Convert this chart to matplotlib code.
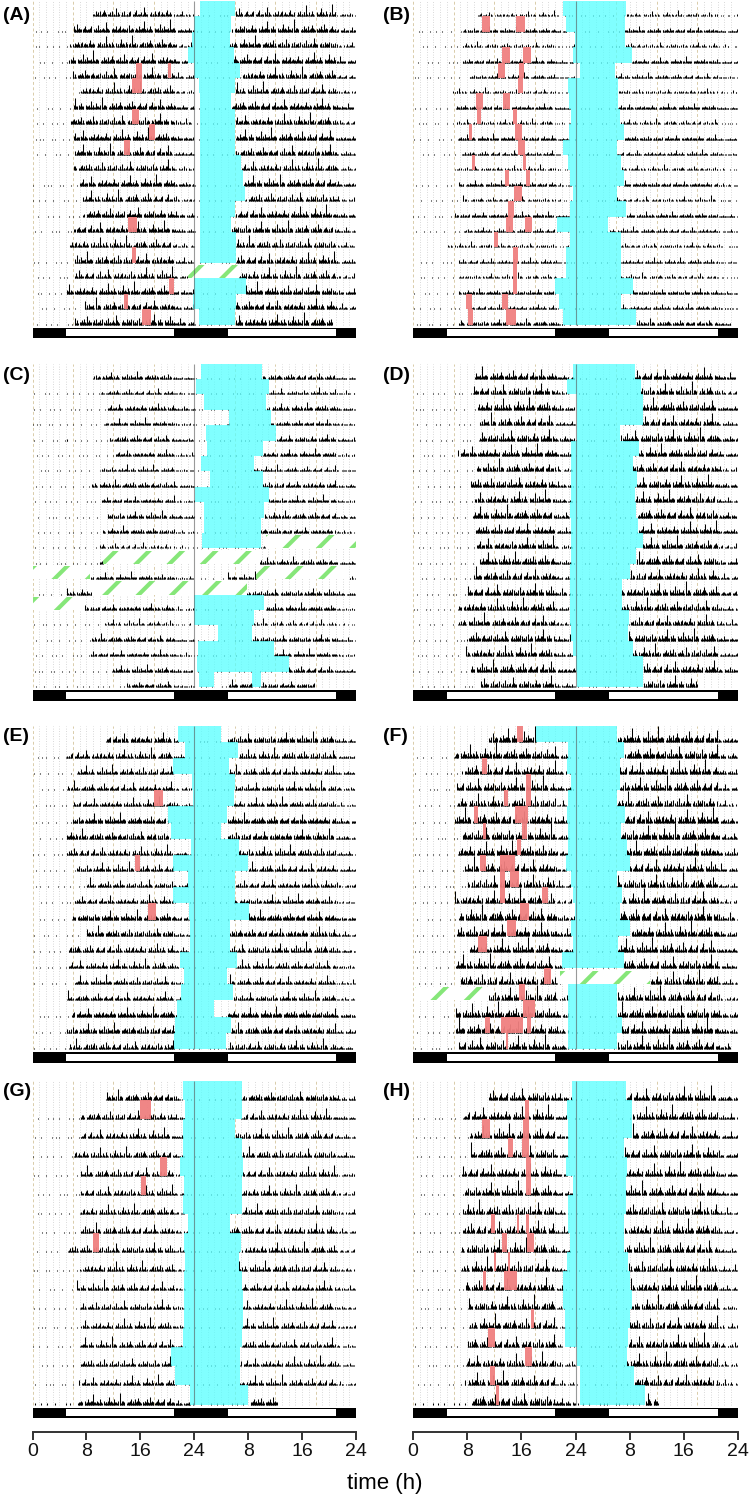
"""
Double-plotted actograms (A)-(H): activity traces, rest bouts (cyan),
short bouts (red), missing data (green hatch) and the light/dark bar.
"""

import numpy as np
import matplotlib.pyplot as plt
from matplotlib.patches import Rectangle

plt.rcParams['hatch.linewidth'] = 3.0

# ---- Data (hours on the double-plotted 0-48 h axis, rows counted from 1) ----
labels = ['(A)', '(B)', '(C)', '(D)', '(E)', '(F)', '(G)', '(H)']
n_rows = [21, 21, 21, 21, 20, 20, 17, 17]
rec_start = [9.0, 9.4, 9.0, 9.1, 10.9, 11.2, 10.9, 11.2]   # first row
rec_end = [44.5, 47.0, 41.8, 42.0, 47.5, 46.8, 36.5, 36.2]  # last row
amp = [0.8, 0.4, 0.5, 0.85, 0.65, 0.95, 0.6, 0.8]

light_on = [(5, 21), (29, 45)]

cyan = [
    [(24.8, 30.1), (24.0, 29.5), (23.7, 29.3), (23.0, 29.9), (24.0, 30.8), (24.7, 30.1),
     (24.8, 29.5), (24.8, 30.1), (24.8, 30.1), (24.8, 30.1), (24.8, 31.0), (24.8, 31.2),
     (24.8, 31.5), (24.8, 30.1), (24.8, 29.5), (24.8, 30.2), (24.8, 30.2), None,
     (24.0, 31.7), (23.8, 30.2), (24.7, 30.1)],
    [(22.1, 31.4), (22.6, 31.3), (23.9, 31.3), (23.6, 32.4), (24.7, 29.9), (22.9, 30.3),
     (23.1, 30.3), (23.4, 30.5), (23.1, 31.2), (22.1, 30.2), (22.9, 30.7), (23.2, 31.1),
     (23.6, 30.1), (23.2, 31.5), (21.3, 28.8), (23.2, 30.7), (22.6, 30.7), (22.6, 30.7),
     (21.0, 32.5), (21.5, 30.7), (22.1, 33.0)],
    [(25.0, 34.1), (24.3, 35.1), (25.4, 34.7), (29.2, 35.4), (25.8, 36.2), (25.9, 34.2),
     (25.0, 32.8), (26.3, 34.2), (24.1, 35.1), (25.4, 34.4), (25.4, 33.9), (25.1, 33.9),
     None, None, None, (24.0, 34.3), (24.0, 32.8), (27.5, 32.6), (24.6, 35.8),
     (24.4, 38.0), (24.7, 26.9, 32.6, 33.9)],
    [(23.7, 32.8), (22.7, 33.6), (24.2, 33.9), (24.2, 33.9), (24.2, 30.6), (23.4, 33.4),
     (23.4, 32.5), (23.4, 33.1), (23.4, 32.8), (23.2, 32.9), (23.4, 33.3), (23.4, 33.9),
     (23.4, 33.0), (23.2, 32.0), (23.2, 30.8), (23.2, 30.8), (23.2, 31.9), (23.3, 31.8),
     (23.6, 32.5), (24.1, 34.0), (24.2, 34.0)],
    [(21.6, 28.0), (22.7, 30.5), (20.9, 29.1), (23.6, 30.0), (23.8, 29.9), (20.1, 28.8),
     (20.5, 28.0), (23.5, 30.6), (20.9, 32.0), (23.1, 30.0), (20.9, 30.0), (23.2, 32.1),
     (23.3, 29.3), (23.3, 29.3), (21.9, 30.3), (22.5, 28.8), (22.1, 29.8), (21.4, 26.9),
     (21.1, 29.4), (21.0, 28.7)],
    [(18.2, 30.2), (22.9, 31.2), (22.7, 30.5), (23.4, 30.5), (22.9, 30.2), (22.8, 31.3),
     (22.9, 30.7), (22.9, 31.6), (22.6, 32.0), (23.3, 30.1), (23.6, 30.8), (23.9, 30.5),
     (23.4, 32.1), (23.6, 30.3), (22.0, 31.1), None, (22.9, 30.2), (22.9, 30.2),
     (22.9, 30.8), (22.9, 30.2)],
    [(22.3, 31.1), (22.6, 31.1), (22.4, 30.1), (22.4, 31.1), (21.9, 31.2), (22.5, 31.1),
     (22.4, 31.1), (23.1, 29.3), (22.5, 31.0), (22.6, 30.6), (22.5, 31.1), (22.5, 31.2),
     (22.5, 31.2), (22.4, 31.1), (20.6, 30.8), (21.1, 30.8), (23.4, 32.0)],
    [(23.5, 31.5), (22.7, 32.4), (22.9, 32.4), (22.9, 31.2), (22.6, 31.6), (23.7, 31.4),
     (22.9, 31.4), (22.9, 31.2), (23.2, 31.2), (22.8, 31.8), (22.2, 32.1), (22.2, 32.3),
     (22.4, 32.0), (22.4, 31.8), (24.2, 31.6), (24.6, 32.6), (24.7, 34.3)],
]

red = [
    [(5, 15.4, 16.2), (5, 20.1, 20.5), (6, 14.8, 16.2), (8, 14.8, 15.8), (9, 17.3, 18.2),
     (10, 13.6, 14.5), (15, 14.1, 15.5), (17, 14.8, 15.4), (19, 20.3, 21.0),
     (20, 13.6, 14.1), (21, 16.2, 17.6)],
    [(2, 10.2, 11.3), (2, 15.2, 16.6), (4, 13.2, 14.3), (4, 16.3, 17.4), (5, 12.6, 13.6),
     (5, 15.7, 16.4), (6, 15.5, 16.2), (7, 9.3, 10.3), (7, 13.3, 14.3), (8, 9.4, 10.0),
     (8, 14.7, 15.3), (9, 8.2, 8.7), (9, 15.1, 16.1), (10, 15.5, 16.6), (11, 8.7, 9.2),
     (11, 16.3, 16.7), (12, 13.6, 14.2), (12, 16.7, 17.3), (13, 14.9, 16.1),
     (14, 14.0, 14.9), (15, 13.8, 14.8), (15, 16.6, 17.6), (16, 11.9, 12.6),
     (17, 14.8, 15.5), (18, 14.8, 15.4), (19, 14.7, 15.4), (20, 7.8, 8.7),
     (20, 13.2, 14.1), (21, 8.1, 8.8), (21, 13.8, 15.2)],
    [],
    [],
    [(5, 18.0, 19.4), (9, 15.2, 15.9), (12, 17.2, 18.3)],
    [(1, 15.3, 16.2), (3, 10.2, 11.0), (4, 16.7, 17.4), (5, 13.4, 14.1), (5, 16.7, 17.4),
     (6, 9.0, 9.6), (6, 15.1, 17.0), (7, 10.3, 10.8), (7, 16.1, 16.8), (8, 15.3, 15.9),
     (9, 9.9, 10.8), (9, 12.9, 15.0), (10, 12.8, 13.6), (10, 14.3, 15.7),
     (11, 12.9, 13.6), (11, 19.1, 20.0), (12, 15.8, 17.1), (13, 13.9, 15.2),
     (14, 9.6, 11.0), (16, 19.4, 20.4), (17, 15.7, 16.6), (18, 16.3, 18.0),
     (19, 10.7, 11.3), (19, 13.0, 16.2), (19, 16.8, 17.4), (20, 13.7, 14.1)],
    [(2, 16.0, 17.6), (5, 18.9, 20.0), (6, 16.1, 16.9), (9, 9.0, 9.8)],
    [(2, 16.5, 17.2), (3, 10.2, 11.3), (3, 16.3, 17.2), (4, 14.1, 14.7), (4, 16.1, 17.2),
     (5, 16.7, 17.5), (6, 16.7, 17.5), (8, 11.5, 12.1), (8, 15.3, 15.7), (8, 16.7, 17.1),
     (9, 13.2, 13.9), (9, 16.8, 17.9), (10, 12.0, 12.3), (10, 14.1, 14.4),
     (11, 10.3, 10.8), (11, 13.4, 15.4), (13, 17.5, 17.9), (14, 11.1, 12.1),
     (15, 16.6, 17.6), (16, 11.4, 12.1), (17, 12.2, 12.7)],
]

green = [
    [(18, 23.1, 30.6)], [],
    [(12, 34.7, 48.0), (13, 10.5, 33.7), (14, 0.0, 8.6), (14, 33.2, 47.0),
     (15, 8.8, 31.8), (16, 0.0, 7.7)],
    [], [], [(16, 21.7, 35.0), (17, 0.3, 11.2)], [], [],
]

# hand-read texture of the activity bars (relative heights 0-9, 6-min bins)
motif = ("2132410231221130521213200013121412213318221031214221000312213162"
         "1321142202131092123312000122134213114122351321002213124121162132"
         "2001231421122131400021231511221203121713221000213122141")

# ---- Layout (pixels) ----
W, H = 749, 1507
col_x = [(32.5, 356.0), (413.0, 738.0)]
panel_top = [1.0, 363.5, 725.5, 1081.0]
label_y = [15, 375, 737, 1091]
panel_h, gap, bar_h = 337.0, 3.0, 10.5

CYAN = (85 / 255, 1.0, 1.0)
RED = '#F08080'
GREEN = '#86E679'
SANS = ['Liberation Sans', 'DejaVu Sans']


def pairs(t):
    if t is None:
        return []
    return [(t[i], t[i + 1]) for i in range(0, len(t), 2)]


def in_spans(x, spans):
    m = np.zeros(x.shape, dtype=bool)
    for a, b in spans:
        m |= (x >= a) & (x < b)
    return m


fig = plt.figure(figsize=(W / 100, H / 100), dpi=100)
motif_v = np.array([int(c) for c in motif])
xs = np.arange(480) * 0.1 + 0.05

for p in range(8):
    col, prow = p % 2, p // 2
    x0, x1 = col_x[col]
    top = panel_top[prow]
    N = n_rows[p]
    rh = (panel_h - gap - bar_h) / N
    ax = fig.add_axes([x0 / W, 1 - (top + panel_h) / H, (x1 - x0) / W, panel_h / H])
    ax.set_xlim(0, 48)
    ax.set_ylim(-N - (gap + bar_h) / rh, 0)
    ax.axis('off')

    # hour grid
    for h in range(0, 49):
        if h == 24:
            ax.vlines(h, -N, 0, color='#555555', lw=0.8, alpha=0.6, zorder=4)
        elif h % 6 == 0:
            ax.vlines(h, -N, 0, color='#d9ccaa', lw=0.7, ls=(0, (3, 2.5)), zorder=1)
        else:
            ax.vlines(h, -N, 0, color='#cccccc', lw=0.6, ls=(0, (1, 2)), zorder=1)

    spans = [pairs(c) for c in cyan[p]]
    for r in range(N):
        base = -(r + 1)
        day = r + (xs >= 24)
        tod = xs % 24
        T = day * 24 + tod
        valid = (T >= rec_start[p]) & (T <= (N - 1) * 24 + rec_end[p])
        g = (day * 240 + (tod * 10).astype(int) + 53 * p) % len(motif_v)
        d = motif_v[g]
        quiet = (tod < 5) | in_spans(xs, spans[r])
        if r > 0:
            quiet |= (xs < 24) & in_spans(xs + 24, spans[r - 1])
        scale = np.where(tod >= 21, 0.5 * amp[p], amp[p])
        gaps = [(a, b) for (rr, a, b) in green[p] if rr == r + 1]
        hgt = np.where(quiet, np.where(d >= 4, 0.06, 0.0), scale * d / 9)
        hgt[~valid | in_spans(xs, gaps)] = 0
        on = hgt > 0
        ax.vlines(xs[on], base, base + hgt[on], color='black', lw=0.75, zorder=2)

        for a, b in spans[r]:
            ax.add_patch(Rectangle((a, base), b - a, 1, fc=CYAN, alpha=0.75,
                                   lw=0, zorder=3))

    for rr, a, b in red[p]:
        ax.add_patch(Rectangle((a, -rr), b - a, 1, fc=RED, alpha=0.95, lw=0, zorder=3.5))
    for rr, a, b in green[p]:
        ax.add_patch(Rectangle((a, -rr), b - a, 0.85, fc='white', ec=GREEN,
                               hatch='/', lw=0, zorder=3.2))

    # light/dark bar
    yb = -N - (gap + bar_h) / rh
    bh = bar_h / rh
    ax.add_patch(Rectangle((0, yb), 48, bh, fc='black', lw=0, zorder=5))
    for a, b in light_on:
        ax.add_patch(Rectangle((a, yb + 0.17 * bh), b - a, 0.66 * bh, fc='white',
                               lw=0, zorder=6))

    fig.text((3 if col == 0 else 383) / W, 1 - label_y[prow] / H, labels[p],
             fontsize=14, fontweight='bold', family=SANS, ha='left', va='center')

# ---- shared time axes ----
for x0, x1 in col_x:
    bx = fig.add_axes([x0 / W, 1 - 1432 / H, (x1 - x0) / W, 0.5 / H])
    bx.set_xlim(0, 48)
    bx.set_xticks(range(0, 49, 8))
    bx.set_xticklabels(['0', '8', '16', '24', '8', '16', '24'], family=SANS)
    bx.set_yticks([])
    for s in ['top', 'left', 'right']:
        bx.spines[s].set_visible(False)
    bx.spines['bottom'].set_linewidth(1.4)
    bx.spines['bottom'].set_color('#333333')
    bx.tick_params(axis='x', length=6, width=1.4, labelsize=14, pad=2,
                   colors='#333333', labelcolor='#111111')
    bx.patch.set_visible(False)

fig.text(385 / W, 1 - 1484 / H, 'time (h)', fontsize=16, family=SANS,
         ha='center', va='center')

fig.savefig('out.png', dpi=100)
